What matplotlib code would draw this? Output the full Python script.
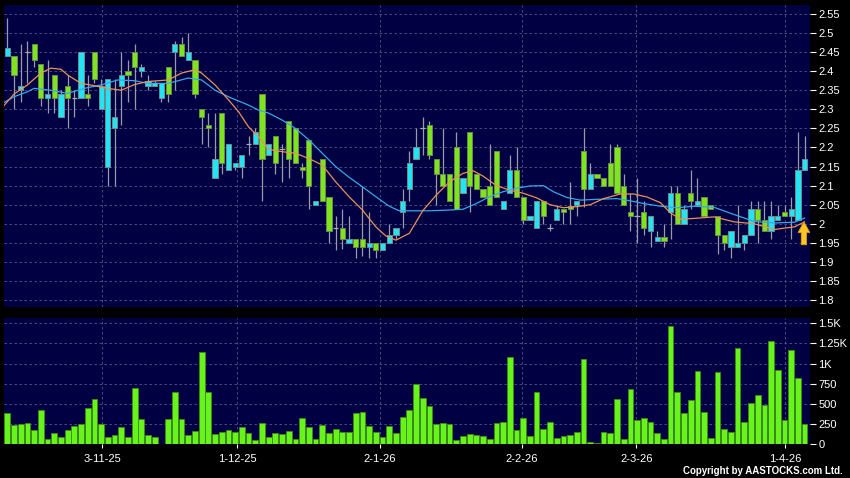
import numpy as np
import matplotlib.pyplot as plt
from matplotlib.ticker import FuncFormatter

plt.rcParams['font.family'] = ['Liberation Sans', 'DejaVu Sans']

# Kurse (Open, High, Low, Close) pro Handelstag
open_ = [2.44, 2.44, 2.35, 2.45, 2.47, 2.42, 2.33, 2.39, 2.28, 2.36,
         2.33, 2.33, 2.34, 2.45, 2.30, 2.15, 2.25, 2.36, 2.40, 2.45,
         2.40, 2.36, 2.36, 2.33, 2.41, 2.45, 2.47, 2.43, 2.43, 2.30,
         2.26, 2.12, 2.29, 2.14, 2.15, 2.15, 2.21, 2.21, 2.34, 2.18,
         2.23, 2.195, 2.27, 2.25, 2.15, 2.22, 2.05, 2.17, 2.07, 1.99,
         1.99, 1.95, 1.96, 1.96, 1.94, 1.95, 1.93, 1.95, 1.97, 2.03,
         2.09, 2.17, 2.25, 2.26, 2.17, 2.13, 2.13, 2.20, 2.08, 2.24,
         2.13, 2.09, 2.10, 2.19, 2.04, 2.08, 2.14, 2.07, 2.01, 1.99,
         2.06, 1.99, 2.01, 2.04, 2.047, 2.05, 2.19, 2.09, 2.13, 2.12,
         2.16, 2.20, 2.10, 2.03, 2.02, 2.03, 1.98, 1.955, 1.965, 2.03,
         2.08, 2.00, 2.08, 2.05, 2.07, 2.05, 2.02, 1.97, 1.94, 1.94,
         1.95, 1.97, 2.04, 2.01, 1.98, 2.01, 2.03, 2.02, 2.01, 2.14]
high = [2.54, 2.44, 2.47, 2.48, 2.47, 2.42, 2.43, 2.39, 2.35, 2.39,
        2.35, 2.45, 2.39, 2.45, 2.38, 2.38, 2.38, 2.45, 2.43, 2.47,
        2.42, 2.39, 2.375, 2.37, 2.41, 2.48, 2.49, 2.50, 2.43, 2.30,
        2.29, 2.29, 2.29, 2.21, 2.16, 2.18, 2.23, 2.25, 2.34, 2.21,
        2.23, 2.21, 2.27, 2.25, 2.16, 2.22, 2.06, 2.17, 2.07, 2.02,
        2.04, 2.02, 1.96, 2.10, 2.03, 1.95, 1.95, 2.00, 1.99, 2.09,
        2.19, 2.25, 2.28, 2.27, 2.17, 2.25, 2.13, 2.24, 2.12, 2.24,
        2.13, 2.09, 2.21, 2.19, 2.06, 2.18, 2.20, 2.07, 2.02, 2.06,
        2.06, 2.00, 2.05, 2.04, 2.11, 2.06, 2.25, 2.16, 2.13, 2.12,
        2.21, 2.21, 2.13, 2.08, 2.12, 2.06, 2.02, 1.98, 2.00, 2.10,
        2.10, 2.05, 2.14, 2.12, 2.07, 2.05, 2.02, 1.97, 1.98, 2.05,
        1.97, 2.06, 2.06, 2.06, 2.06, 2.05, 2.05, 2.07, 2.24, 2.23]
low = [2.44, 2.30, 2.32, 2.37, 2.41, 2.31, 2.29, 2.29, 2.28, 2.25,
       2.28, 2.33, 2.31, 2.37, 2.30, 2.10, 2.10, 2.26, 2.32, 2.30,
       2.385, 2.35, 2.36, 2.32, 2.32, 2.35, 2.44, 2.43, 2.33, 2.21,
       2.20, 2.12, 2.13, 2.14, 2.14, 2.12, 2.18, 2.21, 2.06, 2.18,
       2.13, 2.11, 2.12, 2.16, 2.12, 2.04, 2.05, 2.06, 1.95, 1.93,
       1.935, 1.95, 1.91, 1.915, 1.91, 1.91, 1.93, 1.95, 1.96, 1.99,
       2.06, 2.17, 2.18, 2.17, 2.05, 2.10, 2.06, 2.04, 2.08, 2.03,
       2.09, 2.07, 2.05, 2.07, 2.04, 2.08, 2.07, 2.00, 2.01, 1.99,
       2.00, 1.98, 2.01, 2.00, 2.00, 2.02, 2.045, 2.09, 2.12, 2.10,
       2.10, 2.08, 2.05, 1.98, 1.95, 1.97, 1.94, 1.955, 1.94, 1.96,
       2.00, 2.00, 2.04, 2.05, 2.02, 2.04, 1.92, 1.93, 1.91, 1.94,
       1.93, 1.97, 1.95, 1.98, 1.96, 2.01, 2.02, 1.96, 2.01, 2.14]
close = [2.46, 2.39, 2.36, 2.45, 2.43, 2.33, 2.34, 2.33, 2.34, 2.33,
         2.33, 2.45, 2.33, 2.38, 2.36, 2.38, 2.28, 2.39, 2.39, 2.41,
         2.41, 2.375, 2.37, 2.37, 2.34, 2.47, 2.44, 2.45, 2.34, 2.28,
         2.25, 2.17, 2.16, 2.21, 2.16, 2.18, 2.21, 2.24, 2.17, 2.21,
         2.16, 2.195, 2.17, 2.16, 2.14, 2.10, 2.06, 2.06, 1.98, 1.99,
         1.96, 1.96, 1.94, 1.94, 1.95, 1.93, 1.95, 1.97, 1.99, 2.06,
         2.16, 2.20, 2.25, 2.18, 2.13, 2.10, 2.06, 2.04, 2.12, 2.10,
         2.09, 2.07, 2.05, 2.07, 2.06, 2.14, 2.07, 2.01, 2.02, 2.06,
         2.02, 1.99, 2.04, 2.03, 2.04, 2.06, 2.09, 2.13, 2.12, 2.10,
         2.10, 2.08, 2.05, 2.02, 2.02, 1.99, 2.02, 1.965, 1.955, 2.08,
         2.00, 2.04, 2.06, 2.06, 2.02, 2.04, 1.97, 1.95, 1.98, 1.95,
         1.97, 2.04, 2.01, 1.98, 2.02, 2.02, 2.02, 2.04, 2.14, 2.17]

# Umsatz (Tausend)
volume = [381, 236, 244, 257, 174, 423, 66, 141, 87, 174,
          224, 249, 452, 555, 244, 83, 116, 207, 87, 700,
          311, 116, 83, 0, 311, 642, 311, 108, 166, 1139,
          642, 128, 149, 174, 149, 215, 137, 50, 261, 87,
          133, 128, 162, 62, 327, 211, 62, 236, 133, 186,
          145, 145, 389, 394, 224, 153, 87, 224, 133, 340,
          418, 746, 568, 472, 244, 257, 249, 50, 99, 120,
          112, 104, 62, 257, 278, 1077, 170, 327, 104, 642,
          182, 278, 70, 104, 112, 145, 1052, 25, 8, 145,
          133, 555, 66, 680, 294, 319, 269, 133, 58, 1471,
          650, 381, 547, 903, 402, 70, 899, 186, 153, 1189,
          273, 505, 605, 489, 1284, 920, 298, 1164, 820, 249]

# gleitende Durchschnitte
ma_short_x = [-0.5, 1, 3, 5, 6.5, 8, 9, 11, 13, 15, 17, 19, 21, 24, 26, 28, 29, 31, 33,
              34.5, 36, 37.5, 39, 41, 43, 45, 47, 49, 51, 53, 55, 56.5, 58, 60, 62, 64,
              66, 68, 69.5, 71, 73, 75, 77, 79, 81, 83, 85, 87, 89, 91.5, 93.5, 95.5,
              97.5, 99, 100.5, 102.5, 105.5, 108.5, 111.5, 114.5, 117.5, 119]
ma_short = [2.31, 2.34, 2.364, 2.395, 2.408, 2.405, 2.39, 2.368, 2.362, 2.355, 2.35,
            2.365, 2.373, 2.377, 2.395, 2.404, 2.395, 2.364, 2.325, 2.294, 2.254, 2.228,
            2.195, 2.189, 2.185, 2.171, 2.154, 2.11, 2.071, 2.036, 1.992, 1.968, 1.957,
            1.975, 2.034, 2.075, 2.11, 2.132, 2.139, 2.125, 2.10, 2.088, 2.08, 2.068,
            2.05, 2.042, 2.045, 2.05, 2.066, 2.078, 2.078, 2.07, 2.055, 2.028, 2.012,
            2.014, 2.018, 2.005, 2.0, 1.985, 1.992, 2.005]
ma_long_x = [-0.5, 1, 3, 4, 6.5, 9, 11.5, 14, 16.5, 19, 21, 24, 27, 29, 31, 33, 34.5, 36,
             37.5, 39, 41, 43, 45, 47, 49, 51, 53, 55, 57, 58.5, 60, 63, 66, 68, 70, 72,
             74, 76, 78, 80, 81.5, 83.5, 85.5, 88, 91, 93, 95, 97.5, 100, 102.5, 105.5,
             108.5, 111.5, 114.5, 117.5, 119]
ma_long = [2.318, 2.333, 2.346, 2.355, 2.35, 2.342, 2.355, 2.364, 2.377, 2.375, 2.368,
           2.368, 2.382, 2.377, 2.35, 2.333, 2.322, 2.311, 2.298, 2.29, 2.272, 2.25, 2.22,
           2.185, 2.15, 2.122, 2.097, 2.071, 2.046, 2.034, 2.034, 2.034, 2.036, 2.038,
           2.053, 2.071, 2.084, 2.093, 2.099, 2.10, 2.084, 2.069, 2.062, 2.064, 2.066,
           2.06, 2.053, 2.046, 2.042, 2.046, 2.043, 2.024, 2.006, 2.002, 2.004, 2.015]

date_labels = ['3-11-25', '1-12-25', '2-1-26', '2-2-26', '2-3-26', '1-4-26']
date_idx = [14.2, 34.3, 55.6, 76.8, 93.9, 116.1]

BG = '#000042'
GRID = '#56568a'
UP = '#22E4F2'
DOWN = '#7EE41E'

fig = plt.figure(figsize=(8.5, 4.78), dpi=100, facecolor='black')
ax = fig.add_axes([0.0047, 0.3584, 0.9482, 0.6312], facecolor=BG)
axv = fig.add_axes([0.0047, 0.0711, 0.9482, 0.263], facecolor=BG, sharex=ax)

x = np.arange(len(close))
o = np.array(open_)
c = np.array(close)
h = np.array(high)
l = np.array(low)

# Dochte
ax.vlines(x, l, h, color='#9a9aa8', linewidth=0.9, zorder=2)

up = c > o
down = c < o
flat = c == o
ax.bar(x[up], (c - o)[up], bottom=o[up], width=0.78, color=UP,
       edgecolor='#6e8c90', linewidth=0.7, zorder=3)
ax.bar(x[down], (o - c)[down], bottom=c[down], width=0.78, color=DOWN,
       edgecolor='#6a8a4a', linewidth=0.7, zorder=3)
ax.hlines(c[flat], x[flat] - 0.4, x[flat] + 0.4, color='#a8a8b0', linewidth=0.9, zorder=3)

ax.plot(ma_long_x, ma_long, color='#3aa6e8', linewidth=0.9, zorder=4)
ax.plot(ma_short_x, ma_short, color='#e8915a', linewidth=0.9, zorder=4)

# gelber Pfeil
ax.arrow(118.9, 1.945, 0, 0.060, width=0.8, head_width=1.75, head_length=0.028,
         length_includes_head=True, fc='#FFC623', ec='#e09a10', linewidth=0.6, zorder=5)

ax.set_xlim(-0.5, 119.8)
ax.set_ylim(1.7826, 2.5736)
ax.set_yticks(np.arange(1.80, 2.551, 0.05))
ax.yaxis.set_major_formatter(FuncFormatter(lambda v, p: f'{round(v, 2):g}'))
ax.grid(axis='y', color=GRID, linestyle=(0, (3, 3)), linewidth=0.6)
for d in date_idx:
    ax.axvline(d, color=GRID, linestyle=(0, (3, 3)), linewidth=0.6, zorder=1)
ax.set_axisbelow(True)

# Umsatz
axv.bar(x, volume, width=0.86, color='#66F41A', edgecolor='#3f8a1a', linewidth=0.6, zorder=3)
axv.set_ylim(0, 1562)
axv.set_yticks([0, 250, 500, 750, 1000, 1250, 1500])
axv.set_yticklabels(['0', '250', '500', '750', '1K', '1.25K', '1.5K'])
axv.grid(axis='y', color=GRID, linestyle=(0, (3, 3)), linewidth=0.6)
for d in date_idx:
    axv.axvline(d, color=GRID, linestyle=(0, (3, 3)), linewidth=0.6, zorder=1)
axv.set_axisbelow(True)
axv.set_xticks(date_idx)
axv.set_xticklabels(date_labels)

for a in (ax, axv):
    a.yaxis.tick_right()
    a.tick_params(axis='y', colors='white', labelsize=8, length=4, width=0.8, pad=2,
                  labelcolor='white')
    for s in a.spines.values():
        s.set_visible(False)
ax.tick_params(axis='x', bottom=False, labelbottom=False)
axv.tick_params(axis='x', colors='white', labelsize=8, length=3, width=0.8, pad=4)

fig.text(0.992, 0.004, 'Copyright by AASTOCKS.com Ltd.', color='white', fontsize=7,
         ha='right', va='bottom', fontweight='bold')

fig.savefig('out.png', dpi=100, facecolor='black')
